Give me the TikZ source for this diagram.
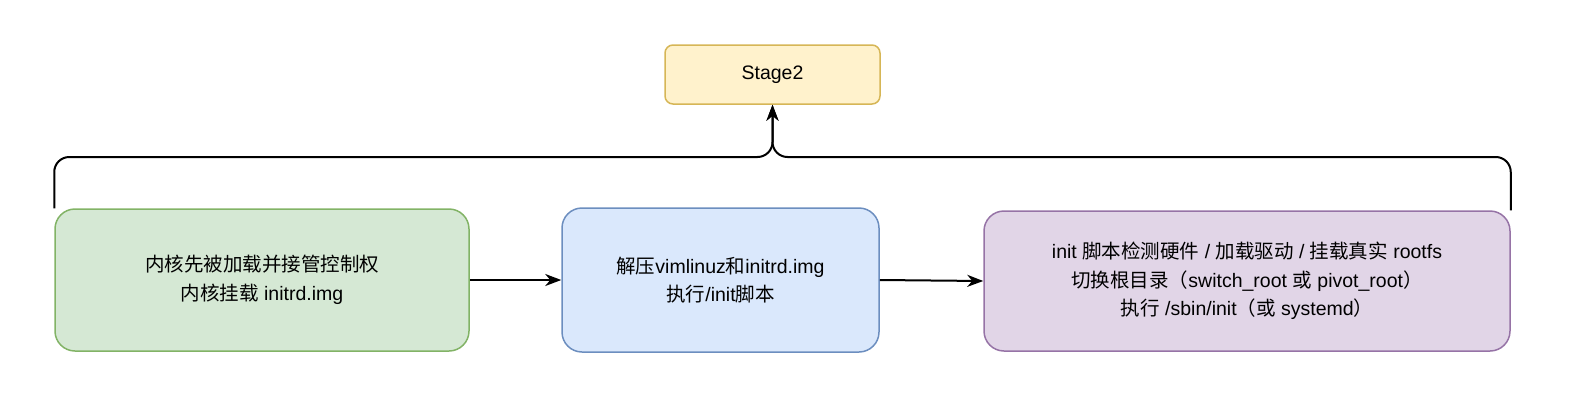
\documentclass[tikz,border=0pt]{standalone}
\usepackage{fontspec}
\setmainfont{Liberation Sans}
\newfontfamily\cjk{Noto Sans CJK SC}
\usetikzlibrary{arrows.meta}
\newcommand\zh[1]{{\cjk #1}}
\definecolor{gfill}{HTML}{D5E8D4}\definecolor{gline}{HTML}{82B366}
\definecolor{bfill}{HTML}{DAE8FC}\definecolor{bline}{HTML}{6C8EBF}
\definecolor{pfill}{HTML}{E1D5E7}\definecolor{pline}{HTML}{9673A6}
\definecolor{yfill}{HTML}{FFF2CC}\definecolor{yline}{HTML}{D6B656}
\begin{document}
\begin{tikzpicture}[x=1pt,y=-1pt,
  box/.style={draw, line width=1.5pt, rounded corners=20pt, align=center, inner sep=0pt,
    font=\fontsize{19.5}{28.5}\selectfont},
  conn/.style={line width=2pt, -{Stealth[length=16pt,width=12pt,inset=5pt]}},
]
\useasboundingbox (0,0) rectangle (1574,418);
\node[box, fill=yfill, draw=yline, rounded corners=8pt, minimum width=215pt, minimum height=59pt] (stage) at (772.5,74.5) {Stage2};
\node[box, fill=gfill, draw=gline, minimum width=414pt, minimum height=142pt] (green) at (262,280)
  {\zh{内核先被加载并接管控制权}\\\zh{内核挂载} initrd.img};
\node[box, fill=bfill, draw=bline, minimum width=317pt, minimum height=144pt] (blue) at (720.5,280)
  {\zh{解压}vimlinuz\zh{和}initrd.img\\\zh{执行}/init\zh{脚本}};
\node[box, fill=pfill, draw=pline, minimum width=526pt, minimum height=140pt] (purple) at (1247,281)
  {init \zh{脚本检测硬件} / \zh{加载驱动} / \zh{挂载真实} rootfs\\
   \zh{切换根目录（}switch\_root \zh{或} pivot\_root\zh{）}\\
   \zh{执行} /sbin/init\zh{（或} systemd\zh{）}};
\coordinate (join) at (772.5,157);
\draw[conn, rounded corners=15pt] (green.north west) |- (join) -- (stage.south);
\draw[conn, rounded corners=15pt] (purple.north east) |- (join) -- (stage.south);
\draw[conn] (green.east) -- (blue.west);
\draw[conn] (blue.east) -- (purple.west);
\end{tikzpicture}
\end{document}
